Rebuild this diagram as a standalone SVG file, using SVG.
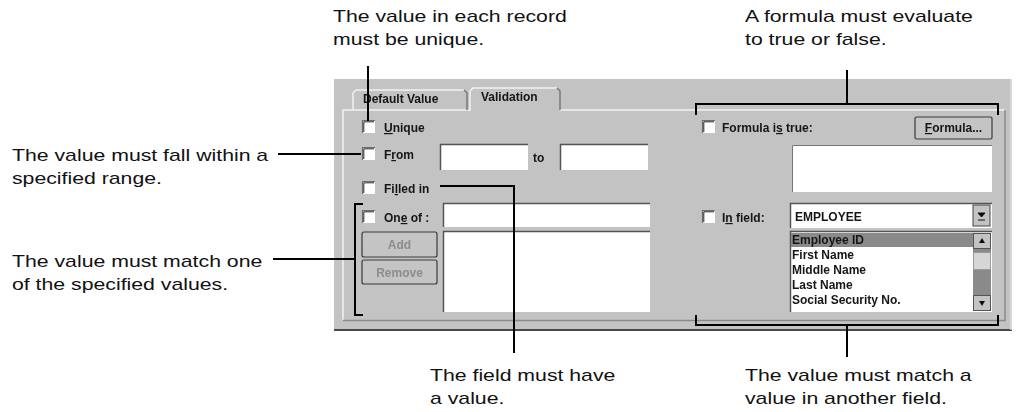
<svg xmlns="http://www.w3.org/2000/svg" width="1021" height="412" viewBox="0 0 1021 412">
  <style>
    .note { font-family: "Liberation Sans", Arial, sans-serif; font-size: 17px; fill: #111; }
    .ui { font-family: "Liberation Sans", Arial, sans-serif; font-size: 12px; font-weight: bold; fill: #151515; }
    .dim { font-family: "Liberation Sans", Arial, sans-serif; font-size: 12px; font-weight: bold; fill: #8c8c8c; }
    .ul { text-decoration: underline; }
    .field { fill: #ffffff; }
    .lead { fill: none; stroke: #000; stroke-width: 2; }
    .btn { fill: #c4c4c4; stroke: #3a3a3a; stroke-width: 1.2; }
  </style>
  <defs>
    <filter id="soft" x="-2%" y="-2%" width="104%" height="104%">
      <feGaussianBlur stdDeviation="0.35"/>
    </filter>
    <!-- sunken checkbox -->
    <g id="chk">
      <rect x="0" y="0" width="13" height="13" fill="#fff"/>
      <path d="M0.5,13 V0.5 H13" fill="none" stroke="#6e6e6e" stroke-width="1.2"/>
      <path d="M1.8,12 V1.8 H12" fill="none" stroke="#222" stroke-width="1"/>
    </g>
  </defs>

  <rect width="1021" height="412" fill="#fff"/>

  <!-- dialog panel -->
  <g id="dialog" filter="url(#soft)">
    <rect x="334" y="79" width="678" height="252" fill="#c3c3c3"/>
    <line x1="334" y1="330" x2="1012" y2="330" stroke="#4a4a4a" stroke-width="2"/>
    <line x1="1011" y1="79" x2="1011" y2="330" stroke="#dedede" stroke-width="1.5"/>

    <!-- tab page frame -->
    <path d="M343,320 V110 H470 M560,110 H1005" fill="none" stroke="#f2f2f2" stroke-width="1.5"/>
    <path d="M343,320.5 H1005 V110" fill="none" stroke="#8a8a8a" stroke-width="1.5"/>

    <!-- tabs -->
    <g id="tab-default">
      <path d="M353,110 V93 L356,90 H464" fill="none" stroke="#f2f2f2" stroke-width="1.5"/>
      <path d="M464,90 L467,93 V110" fill="none" stroke="#7a7a7a" stroke-width="1.5"/>
      <text class="ui" x="363" y="103" font-size="11.5">Default Value</text>
    </g>
    <g id="tab-validation">
      <path d="M470,111 V91 L473,88 H557" fill="none" stroke="#f2f2f2" stroke-width="1.5"/>
      <path d="M557,88 L560,91 V110" fill="none" stroke="#7a7a7a" stroke-width="1.5"/>
      <text class="ui" x="481" y="101" font-size="11.5">Validation</text>
    </g>

    <!-- left column -->
    <g id="unique">
      <use href="#chk" x="362" y="120"/>
      <text class="ui" x="384" y="132"><tspan class="ul">U</tspan>nique</text>
    </g>
    <g id="range">
      <use href="#chk" x="362" y="147"/>
      <text class="ui" x="384" y="159">F<tspan class="ul">r</tspan>om</text>
      <rect class="field" x="440" y="144" width="88" height="26"/>
      <path d="M440.5,170 V144.5 H528" fill="none" stroke="#555" stroke-width="1.5"/>
      <text class="ui" x="533" y="162">to</text>
      <rect class="field" x="560" y="144" width="88" height="26"/>
      <path d="M560.5,170 V144.5 H648" fill="none" stroke="#555" stroke-width="1.5"/>
    </g>
    <g id="filled">
      <use href="#chk" x="362" y="181"/>
      <text class="ui" x="384" y="193">Fi<tspan class="ul">l</tspan>led in</text>
    </g>
    <g id="one-of">
      <use href="#chk" x="362" y="210"/>
      <text class="ui" x="384" y="222">On<tspan class="ul">e</tspan> of :</text>
      <rect class="field" x="443" y="203" width="207" height="24"/>
      <path d="M443.5,227 V203.5 H650" fill="none" stroke="#555" stroke-width="1.5"/>
      <rect class="field" x="443" y="231" width="207" height="81"/>
      <path d="M443.5,312 V231.5 H650" fill="none" stroke="#555" stroke-width="1.5"/>
      <rect class="btn" x="362" y="232" width="75" height="25" rx="2"/>
      <text class="dim" x="399.5" y="249" text-anchor="middle">Add</text>
      <rect class="btn" x="362" y="260" width="75" height="24" rx="2"/>
      <text class="dim" x="399.5" y="277" text-anchor="middle">Remove</text>
    </g>

    <!-- right column -->
    <g id="formula">
      <use href="#chk" x="702" y="120"/>
      <text class="ui" x="722" y="132">Formula i<tspan class="ul">s</tspan> true:</text>
      <rect class="btn" x="915" y="117" width="77" height="22" rx="1.5"/>
      <text class="ui" x="953.5" y="132" text-anchor="middle"><tspan class="ul">F</tspan>ormula...</text>
      <rect class="field" x="792" y="145" width="200" height="47"/>
      <path d="M792.5,192 V145.5 H992" fill="none" stroke="#777" stroke-width="1"/>
    </g>
    <g id="in-field">
      <use href="#chk" x="702" y="210"/>
      <text class="ui" x="722" y="222">I<tspan class="ul">n</tspan> field:</text>
      <!-- combo box -->
      <rect class="field" x="790" y="203" width="202" height="25"/>
      <path d="M790.5,228 V203.5 H992" fill="none" stroke="#555" stroke-width="1.5"/>
      <rect x="973" y="205" width="17" height="21" fill="#c3c3c3" stroke="#444" stroke-width="1"/>
      <path d="M978,213 L981.5,217 L985,213 Z M978,220 H985" fill="#111" stroke="#111" stroke-width="1"/>
      <text class="ui" x="795" y="221" font-size="13">EMPLOYEE</text>
      <!-- field list -->
      <rect class="field" x="790" y="231" width="202" height="81"/>
      <path d="M790.5,312 V231.5 H992" fill="none" stroke="#555" stroke-width="1.5"/>
      <rect x="791" y="233" width="182" height="14" fill="#8a8a8a"/>
      <text class="ui" x="792" y="244">Employee ID</text>
      <text class="ui" x="792" y="259">First Name</text>
      <text class="ui" x="792" y="274">Middle Name</text>
      <text class="ui" x="792" y="289">Last Name</text>
      <text class="ui" x="792" y="304">Social Security No.</text>
      <!-- scroll bar -->
      <rect x="973" y="233" width="18" height="78" fill="#8a8a8a"/>
      <rect x="973.5" y="233.5" width="17" height="15" fill="#c3c3c3" stroke="#555" stroke-width="1"/>
      <rect x="973.5" y="252.5" width="17" height="17" fill="#d6d6d6" stroke="#9a9a9a" stroke-width="1"/>
      <rect x="973.5" y="295.5" width="17" height="15" fill="#c3c3c3" stroke="#555" stroke-width="1"/>
      <path d="M979,243 L982,238 L985,243 Z" fill="#111"/>
      <path d="M979,301 L982,306 L985,301 Z" fill="#111"/>
    </g>
  </g>

  <!-- callout notes (set wide: 1.25 horizontal scale) -->
  <g id="note-unique" transform="translate(333,0) scale(1.25,1)">
    <text class="note" x="0" y="22">The value in each record</text>
    <text class="note" x="0" y="45">must be unique.</text>
  </g>
  <g id="note-formula" transform="translate(745,0) scale(1.25,1)">
    <text class="note" x="0" y="22">A formula must evaluate</text>
    <text class="note" x="0" y="45">to true or false.</text>
  </g>
  <g id="note-range" transform="translate(12,0) scale(1.25,1)">
    <text class="note" x="0" y="161">The value must fall within a</text>
    <text class="note" x="0" y="184">specified range.</text>
  </g>
  <g id="note-oneof" transform="translate(12,0) scale(1.25,1)">
    <text class="note" x="0" y="267">The value must match one</text>
    <text class="note" x="0" y="290">of the specified values.</text>
  </g>
  <g id="note-filled" transform="translate(430,0) scale(1.25,1)">
    <text class="note" x="0" y="381">The field must have</text>
    <text class="note" x="0" y="404">a value.</text>
  </g>
  <g id="note-infield" transform="translate(745,0) scale(1.25,1)">
    <text class="note" x="0" y="381">The value must match a</text>
    <text class="note" x="0" y="404">value in another field.</text>
  </g>

  <!-- leader lines -->
  <g id="connectors" class="lead">
    <path class="lead" d="M368,66 V121"/>
    <path class="lead" d="M278,154 H361"/>
    <path class="lead" d="M440,186 H514 V353"/>
    <path class="lead" d="M273,259 H355 M363,204 H355 V315 H363"/>
    <path class="lead" d="M847,70 V104 M696,115 V104 H998 V115"/>
    <path class="lead" d="M696,315 V325 H998 V315 M847,325 V357"/>
  </g>
</svg>
